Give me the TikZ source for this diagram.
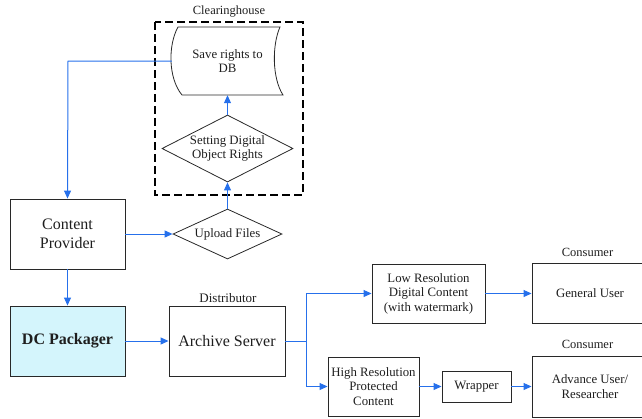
\documentclass[tikz,border=0pt]{standalone}
\usepackage{fontspec}
\setmainfont{Liberation Serif}
\usetikzlibrary{shapes.geometric,arrows.meta}
\definecolor{arrowblue}{RGB}{38,112,235}
\definecolor{boxline}{RGB}{40,40,40}
\definecolor{packfill}{RGB}{212,245,252}
\definecolor{txt}{RGB}{30,30,30}
\tikzset{
  box/.style={draw=boxline,line width=0.9pt,rectangle,inner sep=1pt,align=center,text=txt},
  bigtxt/.style={font=\fontsize{16}{19}\selectfont},
  smalltxt/.style={font=\fontsize{12.8}{14.5}\selectfont},
  dia/.style={draw=boxline,line width=0.8pt,diamond,inner sep=0pt,align=center,text=txt,font=\fontsize{12.8}{13.5}\selectfont},
  lbl/.style={inner sep=0pt,text=txt,font=\fontsize{12.5}{14}\selectfont},
  conn/.style={draw=arrowblue,line width=1pt,-{Triangle[length=8pt,width=7pt]}},
  plainconn/.style={draw=arrowblue,line width=1pt},
}
\begin{document}
\begin{tikzpicture}[x=1pt,y=-1pt]
\useasboundingbox (0,0) rectangle (642,418);
\begin{scope}
\clip (0,0) rectangle (642,418);
% Clearinghouse
\draw[line width=2pt,dash pattern=on 8pt off 4pt,black] (155,22) rectangle (303,195);
\node[lbl] (clh) at (229,12) {Clearinghouse};
\node[inner sep=0pt,minimum width=111pt,minimum height=68pt,align=center,text=txt,font=\fontsize{12.8}{13.5}\selectfont] (save) at (227.5,61) {Save rights to\\DB};
\draw[boxline,line width=0.8pt] (178,27) -- (280,27) .. controls (272,45) and (272,78) .. (283,95) -- (182,95) .. controls (168,78) and (168,45) .. (178,27) -- cycle;
\node[dia,aspect=1.955,minimum width=131pt,minimum height=67pt] (set) at (227.5,148.5) {Setting Digital\\Object Rights};
\node[dia,aspect=2.18,minimum width=109pt,minimum height=50pt] (up) at (227.5,234) {Upload Files};
% left column
\node[box,bigtxt,minimum width=115pt,minimum height=70pt] (cp) at (67.5,234) {Content\\Provider};
\node[box,font=\fontsize{16}{19}\selectfont\bfseries,fill=packfill,minimum width=115pt,minimum height=70pt] (dcp) at (67.5,341) {DC Packager};
\node[box,bigtxt,minimum width=116pt,minimum height=70pt] (arch) at (227,341) {Archive Server};
\node[lbl,font=\fontsize{13}{14}\selectfont] (dist) at (228,298) {Distributor};
% right part
\node[box,smalltxt,minimum width=113pt,minimum height=59pt] (low) at (428.5,293.5) {Low Resolution\\Digital Content\\(with watermark)};
\node[box,smalltxt,minimum width=116pt,minimum height=60pt] (gen) at (590,293) {General User};
\node[lbl] (cons1) at (587.5,252) {Consumer};
\node[box,smalltxt,minimum width=91pt,minimum height=59pt] (high) at (373.5,386.5) {High Resolution\\Protected\\Content};
\node[box,smalltxt,minimum width=69pt,minimum height=31pt] (wrap) at (476.5,386.5) {Wrapper};
\node[box,smalltxt,minimum width=116pt,minimum height=61pt] (adv) at (590,386.5) {Advance User/\\Researcher};
\node[lbl] (cons2) at (587.5,344) {Consumer};
\coordinate (split) at (306,341);
\coordinate (corner) at (68,61);
% connectors
\draw[conn] (save.west) -- (corner) -- (cp.north);
\draw[conn] (cp.east |- up.west) -- (up.west);
\draw[conn] (up.north) -- (set.south);
\draw[conn] (set.north) -- (save.south);
\draw[conn] (dcp.north |- cp.south) -- (dcp.north);
\draw[conn] (dcp.east) -- (arch.west);
\draw[plainconn] (arch.east) -- (split);
\draw[conn] (split) |- (low.west);
\draw[conn] (split) |- (high.west);
\draw[conn] (low.east) -- (gen.west |- low.east);
\draw[conn] (high.east) -- (wrap.west);
\draw[conn] (wrap.east) -- (adv.west |- wrap.east);
\end{scope}
\end{tikzpicture}
\end{document}
